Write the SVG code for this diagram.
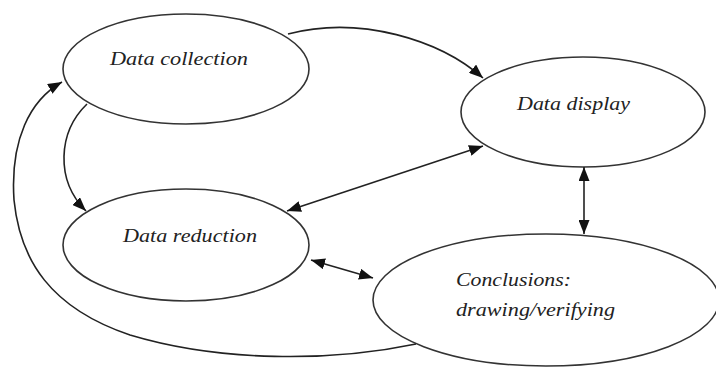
<svg xmlns="http://www.w3.org/2000/svg" width="716" height="367" viewBox="0 0 716 367">
<style>
.node ellipse{fill:#fff;stroke:#333;stroke-width:1.6}
.node text{font-family:"Liberation Serif",serif;font-style:italic;font-size:19px;fill:#222}
.edges path{fill:none;stroke:#222;stroke-width:1.6}
</style>
<defs>
<marker id="ah" viewBox="0 0 14 11" refX="14" refY="5.5" markerWidth="14" markerHeight="11" markerUnits="userSpaceOnUse" orient="auto-start-reverse">
<path d="M0,0 L14,5.5 L0,11 z" fill="#111"/>
</marker>
</defs>
<rect width="716" height="367" fill="#fff"/>
<g id="data-collection" class="node">
<ellipse cx="186" cy="69" rx="123" ry="55"/>
<text x="110" y="65" textLength="138" lengthAdjust="spacingAndGlyphs">Data collection</text>
</g>
<g id="data-display" class="node">
<ellipse cx="583" cy="112" rx="122" ry="55"/>
<text x="517" y="110" textLength="113" lengthAdjust="spacingAndGlyphs">Data display</text>
</g>
<g id="data-reduction" class="node">
<ellipse cx="186" cy="245" rx="123" ry="56"/>
<text x="123" y="242" textLength="134" lengthAdjust="spacingAndGlyphs">Data reduction</text>
</g>
<g id="conclusions" class="node">
<ellipse cx="546" cy="300" rx="173" ry="66"/>
<text x="456" y="286" textLength="115" lengthAdjust="spacingAndGlyphs">Conclusions:</text>
<text x="456" y="316" textLength="159" lengthAdjust="spacingAndGlyphs">drawing/verifying</text>
</g>
<g id="connectors" class="edges">
<path d="M288,34 C360,15 440,40 483,78" marker-end="url(#ah)"/>
<path d="M87,104 C58,132 55,180 86,211" marker-end="url(#ah)"/>
<path d="M483,146 L287,211" marker-start="url(#ah)" marker-end="url(#ah)"/>
<path d="M584,167 L584,234" marker-start="url(#ah)" marker-end="url(#ah)"/>
<path d="M311,260 L373,278" marker-start="url(#ah)" marker-end="url(#ah)"/>
<path d="M416,344 C330,362 220,362 130,335 C50,308 20,260 14,200 C10,140 30,100 62,82" marker-end="url(#ah)"/>
</g>
</svg>
